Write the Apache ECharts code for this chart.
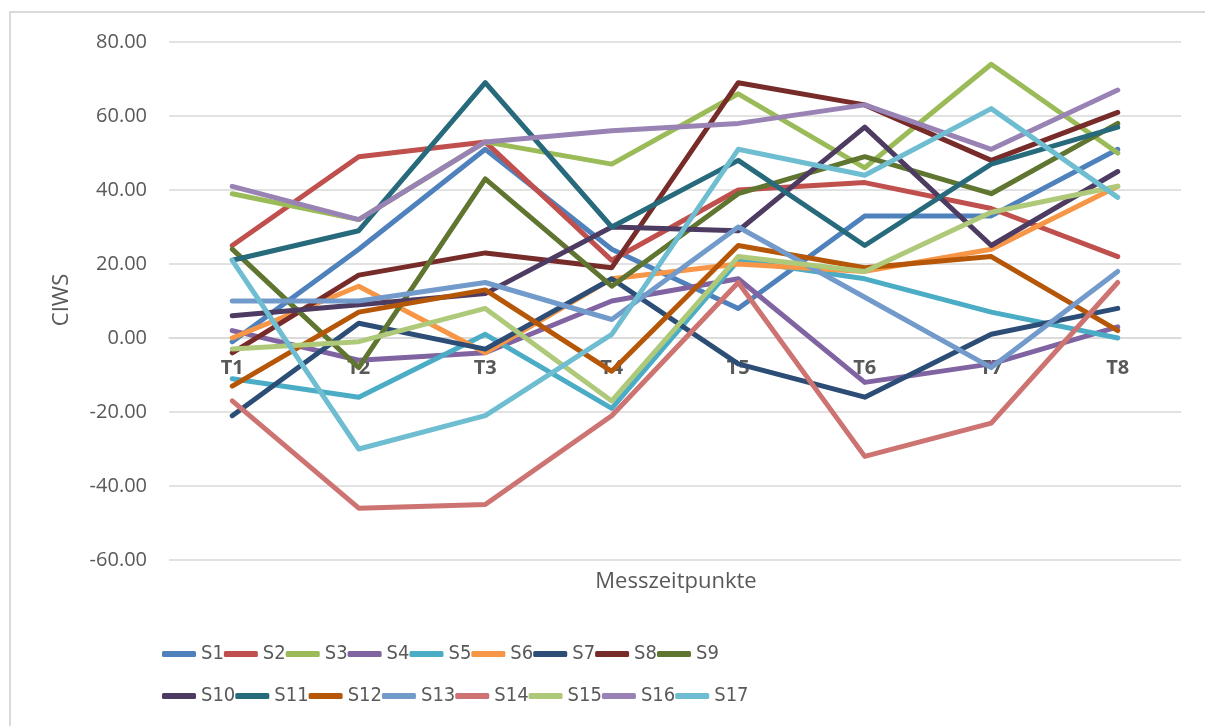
<!DOCTYPE html>
<html>
<head>
<meta charset="utf-8">
<script src="https://cdn.jsdelivr.net/npm/echarts@6/dist/echarts.min.js"></script>
<style>html,body{margin:0;padding:0;background:#fff}#c{width:1205px;height:726px}</style>
</head>
<body>
<div id="c"></div>
<script>
const categories = ['T1','T2','T3','T4','T5','T6','T7','T8'];
const yTicks = { min: -60, max: 80, interval: 20 };
const seriesNames = ['S1','S2','S3','S4','S5','S6','S7','S8','S9','S10','S11','S12','S13','S14','S15','S16','S17'];
const S1  = [-1, 24, 51, 24, 8, 33, 33, 51];
const S2  = [25, 49, 53, 21, 40, 42, 35, 22];
const S3  = [39, 32, 53, 47, 66, 46, 74, 50];
const S4  = [2, -6, -4, 10, 16, -12, -7, 3];
const S5  = [-11, -16, 1, -19, 21, 16, 7, 0];
const S6  = [0, 14, -4, 16, 20, 18, 24, 41];
const S7  = [-21, 4, -3, 16, -7, -16, 1, 8];
const S8  = [-4, 17, 23, 19, 69, 63, 48, 61];
const S9  = [24, -8, 43, 14, 39, 49, 39, 58];
const S10 = [6, 9, 12, 30, 29, 57, 25, 45];
const S11 = [21, 29, 69, 30, 48, 25, 47, 57];
const S12 = [-13, 7, 13, -9, 25, 19, 22, 2];
const S13 = [10, 10, 15, 5, 30, 11, -8, 18];
const S14 = [-17, -46, -45, -21, 15, -32, -23, 15];
const S15 = [-3, -1, 8, -17, 22, 18, 34, 41];
const S16 = [41, 32, 53, 56, 58, 63, 51, 67];
const S17 = [21, -30, -21, 1, 51, 44, 62, 38];
const seriesValues = [S1,S2,S3,S4,S5,S6,S7,S8,S9,S10,S11,S12,S13,S14,S15,S16,S17];
const colors = ['#4F81BD','#C0504D','#9BBB59','#8064A2','#4BACC6','#F79646','#2C4D75','#772C2A','#5F7530','#4D3B62','#276A7C','#B65708','#729ACA','#CD7371','#AFC97A','#9983B5','#6FBDD1'];

const txt = '#595959';
const font = '"Open Sans", "Noto Sans", sans-serif';
const legendFont = '"DejaVu Sans Condensed", "Liberation Sans Narrow", "Liberation Sans", sans-serif';

const gridTop = 42, gridBottom = 166, H = 726;
const gridHeight = H - gridTop - gridBottom;
// place the category axis where the value axis crosses 0
const zeroOffset = -gridHeight * (0 - yTicks.min) / (yTicks.max - yTicks.min);

const chart = echarts.init(document.getElementById('c'), null, {renderer:'canvas'});
const legendCommon = {
  orient: 'horizontal', padding: 0, itemGap: 0, itemWidth: 34, itemHeight: 6, icon: 'roundRect',
  textStyle: { color: txt, fontSize: 20, fontFamily: legendFont, width: 22, overflow: 'none' }
};
chart.setOption({
  animation: false,
  color: colors,
  grid: { left: 169, right: 24, top: gridTop, bottom: gridBottom, containLabel: false },
  graphic: [
    { type: 'rect', shape: { x: 10, y: 12, width: 1220, height: 740 }, style: { fill: 'none', stroke: '#D9D9D9', lineWidth: 2 }, silent: true },
    { type: 'text', x: 676, y: 582, style: { text: 'Messzeitpunkte', fill: txt, font: '22px ' + font, textAlign: 'center', textVerticalAlign: 'middle' } },
    { type: 'text', rotation: Math.PI/2, x: 62, y: 300, style: { text: 'CIWS', fill: txt, font: '22px ' + font, textAlign: 'center', textVerticalAlign: 'middle' } }
  ],
  legend: [
    Object.assign({ left: 162, top: 644, data: seriesNames.slice(0,9) }, legendCommon),
    Object.assign({ left: 162, top: 686, data: seriesNames.slice(9) }, legendCommon)
  ],
  xAxis: {
    type: 'category', data: categories, boundaryGap: true,
    offset: zeroOffset,
    axisLine: { show: true, onZero: false, lineStyle: { color: '#D9D9D9', width: 1.5 } },
    axisTick: { show: false },
    splitLine: { show: false },
    axisLabel: { color: txt, fontSize: 20, fontWeight: 'bold', fontFamily: font, margin: 20 }
  },
  yAxis: {
    type: 'value', min: yTicks.min, max: yTicks.max, interval: yTicks.interval,
    axisLine: { show: false }, axisTick: { show: false },
    splitLine: { lineStyle: { color: '#D9D9D9', width: 1.5 } },
    axisLabel: { color: txt, fontSize: 20, fontFamily: font, margin: 22, formatter: v => v.toFixed(2) }
  },
  series: seriesNames.map((n, i) => ({
    name: n, type: 'line', data: seriesValues[i], showSymbol: false, symbol: 'none',
    lineStyle: { width: 5, color: colors[i], cap: 'round', join: 'round' },
    itemStyle: { color: colors[i] }
  }))
});
</script>
</body>
</html>
